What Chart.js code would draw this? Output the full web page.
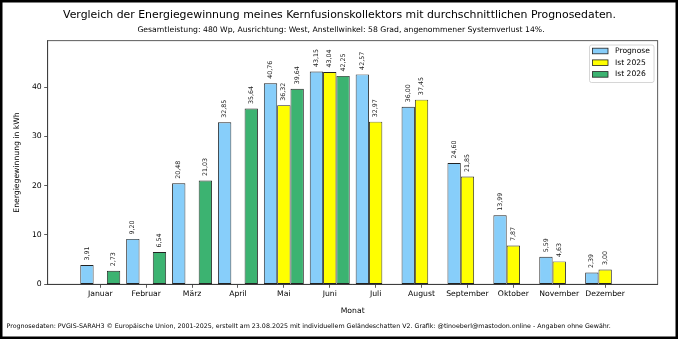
<!DOCTYPE html>
<html>
<head>
<meta charset="utf-8">
<script src="https://cdn.jsdelivr.net/npm/chart.js@4.4.1/dist/chart.umd.min.js"></script>
<style>
  html, body { margin: 0; padding: 0; background: #fff; }
  #chart { display: block; }
</style>
</head>
<body>
<canvas id="chart" width="678" height="339"></canvas>
<script>
const months = ['Januar', 'Februar', 'März', 'April', 'Mai', 'Juni', 'Juli', 'August', 'September', 'Oktober', 'November', 'Dezember'];
const prognose = [3.91, 9.20, 20.48, 32.85, 40.76, 43.15, 42.57, 36.00, 24.60, 13.99, 5.59, 2.39];
const ist2025 = [null, null, null, null, 36.32, 43.04, 32.97, 37.45, 21.85, 7.87, 4.63, 3.00];
const ist2026 = [2.73, 6.54, 21.03, 35.64, 39.64, 42.25, null, null, null, null, null, null];
const yTicks = [0, 10, 20, 30, 40];

const titleText = 'Vergleich der Energiegewinnung meines Kernfusionskollektors mit durchschnittlichen Prognosedaten.';
const subtitleText = 'Gesamtleistung: 480 Wp, Ausrichtung: West, Anstellwinkel: 58 Grad, angenommener Systemverlust 14%.';
const footerText = 'Prognosedaten: PVGIS-SARAH3 © Europäische Union, 2001-2025, erstellt am 23.08.2025 mit individuellem Geländeschatten V2. Grafik: @tinoeberl@mastodon.online - Angaben ohne Gewähr.';

const FONT = "'DejaVu Sans', sans-serif";
Chart.defaults.font.family = FONT;

const toPoints = arr => arr.map((v, i) => ({ x: i, y: v }));

// frame, titles, value labels and legend (matplotlib look)
const decorations = {
  id: 'decorations',
  afterDatasetsDraw(chart) {
    const ctx = chart.ctx;
    const a = chart.chartArea;

    // value labels above the bars
    ctx.save();
    ctx.fillStyle = '#222';
    ctx.font = '6.3px ' + FONT;
    ctx.textAlign = 'left';
    ctx.textBaseline = 'middle';
    chart.data.datasets.forEach((ds, di) => {
      const meta = chart.getDatasetMeta(di);
      meta.data.forEach((bar, i) => {
        const v = ds.data[i].y;
        if (v === null) return;
        ctx.save();
        ctx.translate(bar.x, bar.y - 4.5);
        ctx.rotate(-Math.PI / 2);
        ctx.fillText(v.toFixed(2).replace('.', ','), 0, 0);
        ctx.restore();
      });
    });
    ctx.restore();

    // axes box
    ctx.save();
    ctx.strokeStyle = '#333';
    ctx.lineWidth = 0.8;
    ctx.strokeRect(a.left, a.top, a.right - a.left, a.bottom - a.top);
    ctx.restore();

    // legend
    ctx.save();
    const lx = 589.5, ly = 45, lw = 64.5, lh = 37.5;
    ctx.fillStyle = 'rgba(255,255,255,0.8)';
    ctx.strokeStyle = '#ccc';
    ctx.lineWidth = 0.8;
    ctx.beginPath();
    ctx.roundRect(lx, ly, lw, lh, 2);
    ctx.fill();
    ctx.stroke();
    ctx.font = '7.6px ' + FONT;
    ctx.textBaseline = 'middle';
    ctx.textAlign = 'left';
    chart.data.datasets.forEach((ds, di) => {
      const cy = 51 + di * 11.7;
      ctx.fillStyle = ds.backgroundColor;
      ctx.fillRect(592.5, cy - 2.8, 15.5, 5.6);
      ctx.strokeStyle = ds.borderColor;
      ctx.lineWidth = 0.8;
      ctx.strokeRect(592.5, cy - 2.8, 15.5, 5.6);
      ctx.fillStyle = '#000';
      ctx.fillText(ds.label, 615, cy);
    });
    ctx.restore();
  },
  afterDraw(chart) {
    const ctx = chart.ctx;
    ctx.save();
    ctx.fillStyle = '#000';
    ctx.textAlign = 'center';
    ctx.textBaseline = 'middle';
    ctx.font = '10.9px ' + FONT;
    ctx.fillText(titleText, 339.5, 15);
    ctx.font = '7.7px ' + FONT;
    ctx.fillText(subtitleText, 341, 30);
    ctx.textAlign = 'left';
    ctx.font = '6.3px ' + FONT;
    ctx.fillText(footerText, 6.5, 326.5);
    // figure border
    ctx.strokeStyle = '#000';
    ctx.lineWidth = 5;
    ctx.strokeRect(0, 0, 678, 339);
    ctx.restore();
  }
};

new Chart(document.getElementById('chart'), {
  type: 'bar',
  data: {
    datasets: [
      { label: 'Prognose', data: toPoints(prognose), backgroundColor: '#87CEFA', borderColor: '#222', borderWidth: 0.9, borderSkipped: false },
      { label: 'Ist 2025', data: toPoints(ist2025), backgroundColor: '#FFFF00', borderColor: '#222', borderWidth: 0.9, borderSkipped: false },
      { label: 'Ist 2026', data: toPoints(ist2026), backgroundColor: '#3CB371', borderColor: '#222', borderWidth: 0.9, borderSkipped: false }
    ]
  },
  options: {
    responsive: false,
    animation: false,
    categoryPercentage: 0.87,
    barPercentage: 1,
    layout: { padding: { top: 40.7, right: 20.3, left: 0, bottom: 0 } },
    plugins: {
      legend: { display: false },
      title: { display: false },
      tooltip: { enabled: false }
    },
    scales: {
      x: {
        type: 'linear',
        min: -1.145,
        max: 12.145,
        offset: false,
        grid: { offset: false, drawOnChartArea: false, drawTicks: true, tickLength: 3.5, color: '#333', lineWidth: 0.8 },
        border: { display: true, color: '#333', width: 0.8 },
        afterBuildTicks: s => { s.ticks = months.map((m, i) => ({ value: i })); },
        afterFit: s => { s.height = 339 - 284.3; },
        ticks: { callback: v => months[v], autoSkip: false, maxRotation: 0, padding: 2, color: '#000', font: { size: 7.7 } },
        title: { display: true, text: 'Monat', color: '#000', font: { size: 7.7 }, padding: { top: 0, bottom: 23 } }
      },
      y: {
        min: 0,
        max: 49.4,
        grid: { drawOnChartArea: false, drawTicks: true, tickLength: 3.5, color: '#333', lineWidth: 0.8 },
        border: { display: true, color: '#333', width: 0.8 },
        afterBuildTicks: s => { s.ticks = yTicks.map(v => ({ value: v })); },
        afterFit: s => { s.width = 47.7; },
        ticks: { padding: 2.5, color: '#000', font: { size: 7.7 } },
        title: { display: true, text: 'Energiegewinnung in kWh', color: '#000', font: { size: 7.7 }, padding: { top: 12, bottom: 0 } }
      }
    }
  },
  plugins: [decorations]
});
</script>
</body>
</html>
